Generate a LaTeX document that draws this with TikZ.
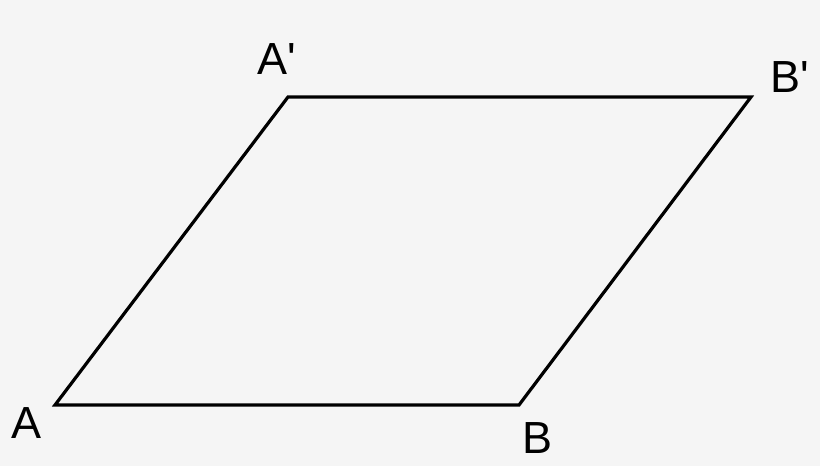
\documentclass[tikz,border=0pt]{standalone}
\usepackage{fontspec}
\newfontfamily\lab{Liberation Sans}[Ligatures=TeXOff]
\definecolor{bg}{HTML}{F5F5F5}
\begin{document}
\begin{tikzpicture}[x=1pt,y=-1pt,
  edge/.style={line width=3.2pt,line join=miter},
  lbl/.style={font=\lab\fontsize{45}{48}\selectfont,inner sep=0pt,text=black}]
\fill[bg] (0,0) rectangle (820,466);
\useasboundingbox (0,0) rectangle (820,466);
\coordinate (A) at (55,405);
\coordinate (B) at (519,405);
\coordinate (Bp) at (751,97);
\coordinate (Ap) at (288,97);
\draw[edge] (A) -- (B) -- (Bp) -- (Ap) -- cycle;
\node[lbl] (lA) at (27,423) {A};
\node[lbl] (lB) at (538,438) {B};
\node[lbl] (lAp) at (277,59) {A'};
\node[lbl] (lBp) at (790,77) {B'};
\end{tikzpicture}
\end{document}
